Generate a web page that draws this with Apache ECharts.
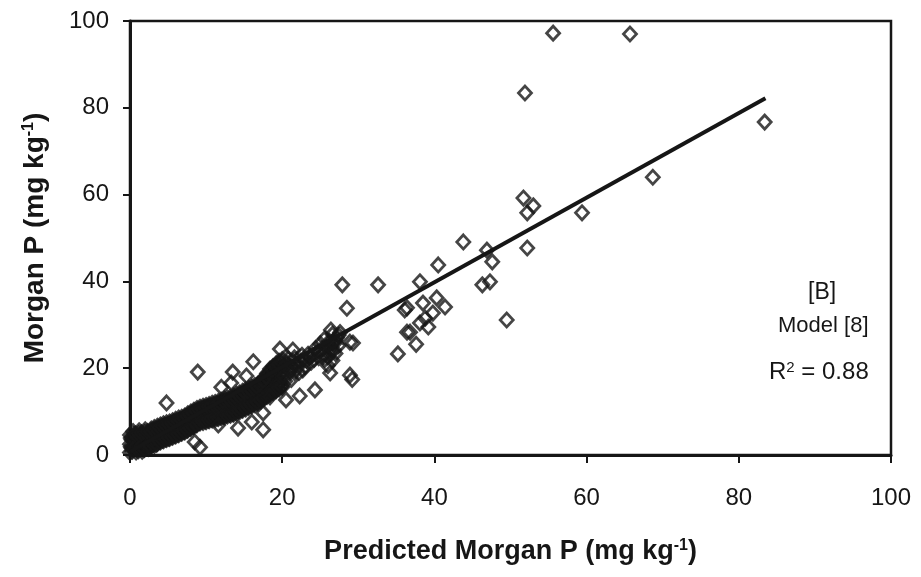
<!DOCTYPE html>
<html><head><meta charset="utf-8">
<script src="https://cdn.jsdelivr.net/npm/echarts@6/dist/echarts.min.js"></script>
<style>html,body{margin:0;padding:0;background:#fff}#c{width:921px;height:577px}</style>
</head><body><div id="c"></div>
<script>
// Axis ticks
var xTicks = [0, 20, 40, 60, 80, 100];
var yTicks = [0, 20, 40, 60, 80, 100];

// Dense band of overlapping samples (predicted, observed), read column by column
var bandPoints = [
 [0.0,0.6],[0.0,2.5],[0.0,4.6],[0.4,1.5],[0.4,3.4],[0.4,5.4],[0.8,0.7],[0.8,2.6],[0.8,4.5],
 [1.2,1.6],[1.2,3.5],[1.2,5.6],[1.6,0.9],[1.6,2.8],[1.6,4.7],[2.0,1.8],[2.0,3.7],[2.0,5.8],
 [2.4,1.5],[2.4,3.2],[2.4,5.0],[2.8,2.1],[2.8,4.0],[2.8,6.0],[3.2,2.2],[3.2,4.3],[3.2,6.3],
 [3.6,2.7],[3.6,4.6],[3.6,6.6],[4.0,3.0],[4.0,5.0],[4.0,6.9],[4.4,3.3],[4.4,5.3],[4.4,7.2],
 [4.8,3.6],[4.8,5.5],[4.8,7.4],[5.2,3.8],[5.2,5.8],[5.2,7.6],[5.6,4.1],[5.6,6.1],[5.6,7.9],
 [6.0,4.4],[6.0,6.4],[6.0,8.2],[6.4,4.7],[6.4,6.6],[6.4,8.5],[6.8,5.0],[6.8,6.9],[6.8,8.7],
 [7.2,5.3],[7.2,7.2],[7.2,9.0],[7.6,5.8],[7.6,7.6],[7.6,9.5],[8.0,6.2],[8.0,8.0],[8.0,9.9],
 [8.4,6.6],[8.4,8.4],[8.4,10.3],[8.8,7.0],[8.8,8.8],[8.8,10.7],[9.2,7.4],[9.2,9.2],[9.2,11.0],
 [9.6,7.5],[9.6,9.4],[9.6,11.2],[10.0,7.7],[10.0,9.6],[10.0,11.4],[10.4,7.9],[10.4,9.8],[10.4,11.6],
 [10.8,8.1],[10.8,10.0],[10.8,11.9],[11.2,8.2],[11.2,10.2],[11.2,12.1],[11.6,8.4],[11.6,10.4],[11.6,12.3],
 [12.0,8.6],[12.0,10.6],[12.0,12.6],[12.4,8.8],[12.4,10.9],[12.4,12.9],[12.8,9.0],[12.8,11.1],[12.8,13.1],
 [13.2,9.2],[13.2,11.3],[13.2,13.3],[13.6,9.4],[13.6,11.5],[13.6,13.6],[14.0,9.7],[14.0,11.8],[14.0,14.0],
 [14.4,10.0],[14.4,12.1],[14.4,14.3],[14.8,10.3],[14.8,12.4],[14.8,14.7],[15.2,10.6],[15.2,12.7],[15.2,15.0],
 [15.6,11.0],[15.6,13.1],[15.6,15.3],[16.0,11.3],[16.0,13.4],[16.0,15.6],[16.4,11.6],[16.4,13.8],[16.4,16.0],
 [16.8,12.0],[16.8,14.1],[16.8,16.3],[17.2,12.4],[17.2,14.6],[17.2,16.9],[17.6,13.0],[17.6,15.3],[17.6,17.8],
 [18.0,13.5],[18.0,16.0],[18.0,18.8],[18.4,14.0],[18.4,16.8],[18.4,19.8],[18.8,14.4],[18.8,17.4],[18.8,20.4],
 [19.2,14.8],[19.2,18.0],[19.2,21.0],[19.6,15.2],[19.6,18.5],[19.6,21.6],[20.0,15.6],[20.0,19.0],[20.0,22.0]
];

// Samples lying between the columns above
var bandPoints2 = [
 [0.2,1.6],[0.2,3.5],[0.6,2.4],[0.6,4.4],[1.0,1.6],[1.0,3.6],[1.4,2.5],[1.4,4.6],[1.8,1.8],[1.8,3.8],
 [2.2,2.6],[2.2,4.7],[2.6,2.3],[2.6,4.1],[3.0,3.1],[3.0,5.0],[3.4,3.2],[3.4,5.3],[3.8,3.6],[3.8,5.6],
 [4.2,4.0],[4.2,5.9],[4.6,4.3],[4.6,6.2],[5.0,4.6],[5.0,6.5],[5.4,4.8],[5.4,6.7],[5.8,5.1],[5.8,7.0],
 [6.2,5.4],[6.2,7.3],[6.6,5.7],[6.6,7.6],[7.0,6.0],[7.0,7.8],[7.4,6.3],[7.4,8.1],[7.8,6.7],[7.8,8.6],
 [8.2,7.1],[8.2,9.0],[8.6,7.5],[8.6,9.4],[9.0,7.9],[9.0,9.8],[9.4,8.3],[9.4,10.1],[9.8,8.5],[9.8,10.3],
 [10.2,8.7],[10.2,10.5],[10.6,8.9],[10.6,10.7],[11.0,9.1],[11.0,11.0],[11.4,9.2],[11.4,11.2],[11.8,9.4],[11.8,11.4],
 [12.2,9.6],[12.2,11.7],[12.6,9.9],[12.6,12.0],[13.0,10.1],[13.0,12.2],[13.4,10.3],[13.4,12.4],[13.8,10.5],[13.8,12.7],
 [14.2,10.8],[14.2,13.0],[14.6,11.1],[14.6,13.3],[15.0,11.4],[15.0,13.6],[15.4,11.7],[15.4,14.0],[15.8,12.1],[15.8,14.4],
 [16.2,12.4],[16.2,14.7],[16.6,12.8],[16.6,15.1],[17.0,13.2],[17.0,15.5],[17.4,13.7],[17.4,16.2],[17.8,14.2],[17.8,16.9],
 [18.2,14.7],[18.2,17.8],[18.6,15.2],[18.6,18.6],[19.0,15.7],[19.0,19.2],[19.4,16.2],[19.4,19.8],[19.8,16.8],[19.8,20.3]
];

var bandPoints3 = [
 [0.1,1.9],[0.1,3.9],[0.5,2.2],[0.5,4.7],[0.9,1.4],[0.9,3.9],[1.3,2.6],[1.3,4.4],[1.7,1.7],[1.7,4.1],
 [2.1,2.9],[2.1,4.6],[2.5,2.4],[2.5,4.5],[2.9,3.0],[2.9,5.3],[3.3,3.4],[3.3,5.4],[3.7,3.6],[3.7,5.9],
 [4.1,4.2],[4.1,6.1],[4.5,4.4],[4.5,6.6],[4.9,4.5],[4.9,6.8],[5.3,5.0],[5.3,6.9],[5.7,5.1],[5.7,7.4],
 [6.1,5.6],[6.1,7.5],[6.5,5.8],[6.5,7.9],[6.9,6.2],[6.9,8.0],[7.3,6.4],[7.3,8.5],[7.7,7.0],[7.7,8.7],
 [8.1,7.3],[8.1,9.2],[8.5,7.8],[8.5,9.5],[8.9,8.1],[8.9,10.1],[9.3,8.6],[9.3,10.3],[9.7,8.6],[9.7,10.7],
 [10.1,8.9],[10.1,10.8],[10.5,9.0],[10.5,11.1],[10.9,9.3],[10.9,11.2],[11.3,9.4],[11.3,11.5],[11.7,9.7],[11.7,11.6],
 [12.1,9.8],[12.1,11.9],[12.5,10.1],[12.5,12.1],[12.9,10.2],[12.9,12.4],[13.3,10.5],[13.3,12.5],[13.7,10.6],[13.7,12.8],
 [14.1,11.0],[14.1,13.0],[14.5,11.2],[14.5,13.4],[14.9,11.6],[14.9,13.6],[15.3,11.8],[15.3,14.0],[15.7,12.3],[15.7,14.3],
 [16.1,12.5],[16.1,14.7],[16.5,12.9],[16.5,15.0],[16.9,13.2],[16.9,15.4],[17.3,13.6],[17.3,16.0],[17.7,14.3],[17.7,16.6],
 [18.1,14.6],[18.1,17.4],[18.5,15.3],[18.5,18.1],[18.9,15.6],[18.9,18.8],[19.3,16.1],[19.3,19.3],[19.7,16.5],[19.7,19.9]
];

var bandPoints4 = [
 [0.3,0.9],[0.3,4.1],[0.7,1.9],[0.7,4.8],[1.1,1.0],[1.1,4.9],[1.5,2.1],[1.5,5.1],[1.9,1.3],[1.9,5.2],
 [2.3,2.2],[2.3,5.4],[2.7,1.9],[2.7,5.5],[3.1,2.5],[3.1,5.8],[3.5,2.5],[3.5,6.0],[3.9,3.1],[3.9,6.3],
 [4.3,3.4],[4.3,6.5],[4.7,3.7],[4.7,6.8],[5.1,3.9],[5.1,7.0],[5.5,4.2],[5.5,7.3],[5.9,4.5],[5.9,7.6],
 [6.3,4.8],[6.3,7.9],[6.7,5.1],[6.7,8.1],[7.1,5.4],[7.1,8.4],[7.5,5.7],[7.5,8.9],[7.9,6.2],[7.9,9.3],
 [8.3,6.5],[8.3,9.7],[8.7,7.0],[8.7,10.1],[9.1,7.5],[9.1,10.4],[9.5,7.8],[9.5,10.6],[9.9,7.9],[9.9,10.9],
 [10.3,8.1],[10.3,11.1],[10.7,8.3],[10.7,11.3],[11.1,8.5],[11.1,11.5],[11.5,8.6],[11.5,11.8],[11.9,8.8],[11.9,12.0],
 [12.3,9.0],[12.3,12.3],[12.7,9.2],[12.7,12.5],[13.1,9.4],[13.1,12.7],[13.5,9.6],[13.5,13.0],[13.9,9.9],[13.9,13.3],
 [14.3,10.2],[14.3,13.7],[14.7,10.5],[14.7,14.0],[15.1,10.9],[15.1,14.4],[15.5,11.2],[15.5,14.7],[15.9,11.5],[15.9,15.0],
 [16.3,11.9],[16.3,15.4],[16.7,12.2],[16.7,15.8],[17.1,12.6],[17.1,16.3],[17.5,13.2],[17.5,17.1],[17.9,13.7],[17.9,18.0],
 [18.3,14.2],[18.3,19.0],[18.7,14.6],[18.7,19.7],[19.1,15.0],[19.1,20.3],[19.5,15.4],[19.5,20.9],[19.9,15.8],[19.9,21.3]
];

// Cluster continuing along the fitted line
var lineCluster = [
 [20.4,17.0],[20.4,20.5],[20.8,18.6],[20.8,22.2],[21.2,17.4],[21.2,20.4],[21.6,19.0],[21.6,22.4],[22.0,20.2],[22.4,21.6],
 [22.8,22.0],[23.2,21.8],[23.6,22.6],[24.0,23.0],[24.6,23.8],[25.2,24.4],[25.8,24.8],[26.0,22.6],[26.2,26.2],[26.4,24.2],
 [26.6,27.8],[26.8,25.6],[27.0,23.4],[27.2,27.0],[27.4,25.2],[26.4,28.8],[27.6,28.2],[25.6,26.8],[26.0,20.6],[26.6,21.8],
 [20.2,18.2],[20.6,21.2],[21.0,19.4],[21.4,21.6],[21.8,20.8],[22.2,19.0],[22.6,23.0],[23.0,20.4],[23.4,23.2],[23.8,21.4],
 [24.2,22.0],[24.4,24.6],[24.8,22.4],[25.0,25.6],[25.4,23.2],[25.6,22.0],[26.2,23.4],[26.8,24.2],[27.0,26.4],[27.4,27.6],
 [26.0,25.4],[26.6,26.0]
];

// Scattered points
var spreadPoints = [
 [4.8,12.0],[8.9,19.1],[9.2,1.8],[8.5,3.0],[11.6,6.9],[14.2,6.2],[17.5,5.8],[16.0,7.6],[17.5,9.7],[18.4,13.4],
 [13.5,19.1],[16.2,21.5],[19.7,24.4],[21.4,24.2],[22.7,19.6],[24.3,15.0],[20.5,12.7],[26.3,18.9],[28.9,18.4],
 [29.2,17.4],[29.3,25.8],[28.9,26.0],[27.9,39.2],[28.5,33.8],[32.6,39.2],[35.2,23.3],[36.1,33.4],[36.4,28.3],
 [37.6,25.5],[36.4,33.9],[38.1,39.9],[38.5,35.0],[40.3,36.2],[41.4,34.1],[39.8,32.7],[39.2,29.5],[38.1,30.4],
 [36.8,28.3],[40.5,43.8],[38.8,31.5],[43.8,49.1],[46.9,47.2],[47.6,44.5],[46.3,39.2],[47.3,39.9],[49.5,31.1],
 [51.7,59.2],[52.2,55.8],[53.0,57.4],[52.2,47.7],[59.4,55.8],[68.7,64.0],[83.4,76.7],[51.9,83.4],[55.6,97.2],
 [65.7,97.0],[13.3,16.6],[15.3,18.2],[12.0,15.6],[22.3,13.6]
];

// Regression line end points
var fitLine = [[0, 0.8], [83.5, 82.2]];

var chart = echarts.init(document.getElementById('c'));
var FONT = 'Liberation Sans, Arial, sans-serif';
var INK = '#161616';
var sup = {fontSize: 16, fontWeight: 'bold', fontFamily: FONT, color: INK, padding: [0, 0, 12, 0]};
var titleX = {fontSize: 27, fontWeight: 'bold', fontFamily: FONT, color: INK};
var titleY = {fontSize: 28, fontWeight: 'bold', fontFamily: FONT, color: INK};
var marker = {symbol: 'diamond', symbolSize: [13, 14], itemStyle: {color: 'rgba(255,255,255,0)', borderColor: INK, borderWidth: 2.8}, z: 2};
var bandSeries = [bandPoints, bandPoints2, bandPoints3, bandPoints4, lineCluster, spreadPoints].map(function (d) {
  return Object.assign({type: 'scatter', data: d, large: false}, marker);
});
chart.setOption({
  animation: false,
  backgroundColor: '#fff',
  grid: {left: 130, right: 30, top: 21, bottom: 122, show: true, borderColor: INK, borderWidth: 2.5},
  xAxis: {
    type: 'value', min: xTicks[0], max: xTicks[xTicks.length - 1], interval: 20,
    name: '{t|Predicted Morgan P (mg kg}{s|-1}{t|)}',
    nameLocation: 'middle', nameGap: 83,
    nameTextStyle: {rich: {t: titleX, s: sup}},
    axisLine: {lineStyle: {color: INK, width: 3}},
    axisTick: {show: true, inside: false, length: 8, lineStyle: {color: INK, width: 2}},
    axisLabel: {margin: 31, fontSize: 24, fontFamily: FONT, color: INK},
    splitLine: {show: false}
  },
  yAxis: {
    type: 'value', min: yTicks[0], max: yTicks[yTicks.length - 1], interval: 20,
    name: '{t|Morgan P (mg kg}{s|-1}{t|)}',
    nameLocation: 'middle', nameGap: 81,
    nameTextStyle: {rich: {t: titleY, s: sup}},
    axisLine: {lineStyle: {color: INK, width: 3}},
    axisTick: {show: true, inside: false, length: 7, lineStyle: {color: INK, width: 2}},
    axisLabel: {margin: 21, fontSize: 24, fontFamily: FONT, color: INK},
    splitLine: {show: false}
  },
  graphic: [
    {type: 'text', left: 808, top: 281, style: {text: '[B]', font: '23px ' + FONT, fill: INK}},
    {type: 'text', left: 778, top: 315, style: {text: 'Model [8]', font: '22px ' + FONT, fill: INK}},
    {type: 'text', left: 769, top: 360, style: {
      text: '{r|R}{s|2}{r| = 0.88}',
      rich: {r: {fontSize: 24, fontFamily: FONT, fill: INK}, s: {fontSize: 15, fontFamily: FONT, fill: INK, padding: [0, 0, 10, 0]}}
    }}
  ],
  series: bandSeries.concat([
    {type: 'line', data: fitLine, showSymbol: false, symbol: 'none',
     lineStyle: {color: INK, width: 4}, z: 3}
  ])
});
</script></body></html>
